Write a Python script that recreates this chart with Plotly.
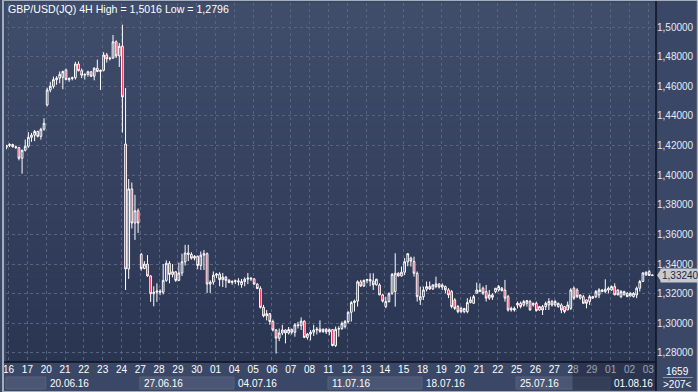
import plotly.graph_objects as go

# ---------------- data ----------------
days = ["16", "17", "20", "21", "22", "23", "24", "27", "28", "29", "30", "01",
        "04", "05", "06", "07", "08", "11", "12", "13", "14", "15", "18", "19",
        "20", "21", "22", "25", "26", "27", "28", "29", "01", "02", "03"]
week_labels = ["20.06.16", "27.06.16", "04.07.16", "11.07.16", "18.07.16", "25.07.16", "01.08.16"]
week_first_day = [2, 7, 12, 17, 22, 27, 32]
price_ticks = [1.28, 1.30, 1.32, 1.34, 1.36, 1.38, 1.40, 1.42, 1.44, 1.46, 1.48, 1.50]
bars_per_day = 6
lead_bars = 1

opens = [1.4188,
    1.4200, 1.4207, 1.4192, 1.4186, 1.4114, 1.4168,
    1.4195, 1.4255, 1.4270, 1.4295, 1.4262, 1.4310,
    1.4474, 1.4575, 1.4600, 1.4645, 1.4655, 1.4660,
    1.4710, 1.4645, 1.4652, 1.4658, 1.4750, 1.4705,
    1.4675, 1.4680, 1.4698, 1.4668, 1.4722, 1.4700,
    1.4708, 1.4811, 1.4785, 1.4790, 1.4900, 1.4805,
    1.4870, 1.4210, 1.3367, 1.3907, 1.3677, 1.3760,
    1.3465, 1.3370, 1.3400, 1.3320, 1.3200, 1.3210,
    1.3218, 1.3210, 1.3290, 1.3405, 1.3330, 1.3348,
    1.3290, 1.3340, 1.3415, 1.3475, 1.3465, 1.3440,
    1.3452, 1.3390, 1.3460, 1.3470, 1.3265, 1.3278,
    1.3325, 1.3332, 1.3295, 1.3312, 1.3290, 1.3276,
    1.3283, 1.3287, 1.3262, 1.3282, 1.3298, 1.3305,
    1.3300, 1.3265, 1.3235, 1.3108, 1.3050, 1.3065,
    1.3012, 1.2955, 1.2900, 1.2935, 1.2955, 1.2935,
    1.2958, 1.2940, 1.2990, 1.2985, 1.3015, 1.2905,
    1.2928, 1.2940, 1.2955, 1.2962, 1.2945, 1.2960,
    1.2942, 1.2958, 1.2850, 1.2960, 1.2965, 1.2978,
    1.3012, 1.3075, 1.3140, 1.3150, 1.3280, 1.3252,
    1.3290, 1.3296, 1.3285, 1.3260, 1.3259, 1.3192,
    1.3113, 1.3147, 1.3203, 1.3215, 1.3338, 1.3320,
    1.3345, 1.3415, 1.3440, 1.3417, 1.3338, 1.3158,
    1.3180, 1.3230, 1.3248, 1.3232, 1.3248, 1.3266,
    1.3245, 1.3248, 1.3226, 1.3214, 1.3158, 1.3113,
    1.3101, 1.3079, 1.3079, 1.3140, 1.3135, 1.3203,
    1.3214, 1.3237, 1.3214, 1.3170, 1.3192, 1.3214,
    1.3225, 1.3237, 1.3225, 1.3180, 1.3090, 1.3101,
    1.3124, 1.3135, 1.3124, 1.3135, 1.3147, 1.3124,
    1.3135, 1.3090, 1.3113, 1.3113, 1.3124, 1.3147,
    1.3124, 1.3113, 1.3124, 1.3113, 1.3090, 1.3101,
    1.3237, 1.3225, 1.3170, 1.3180, 1.3158, 1.3147,
    1.3170, 1.3180, 1.3192, 1.3214, 1.3214, 1.3225,
    1.3225, 1.3248, 1.3225, 1.3180, 1.3192, 1.3203,
    1.3185, 1.3180, 1.3192, 1.3237, 1.3282, 1.3327,
    1.3350, 1.3326]

highs = [1.4205,
    1.4215, 1.4212, 1.4200, 1.4190, 1.4172, 1.4240,
    1.4290, 1.4285, 1.4305, 1.4300, 1.4320, 1.4384,
    1.4590, 1.4630, 1.4665, 1.4668, 1.4700, 1.4705,
    1.4720, 1.4660, 1.4665, 1.4765, 1.4768, 1.4720,
    1.4688, 1.4705, 1.4702, 1.4728, 1.4780, 1.4712,
    1.4830, 1.4825, 1.4795, 1.4946, 1.4910, 1.4892,
    1.5016, 1.4588, 1.3974, 1.3950, 1.3867, 1.3775,
    1.3475, 1.3420, 1.3460, 1.3325, 1.3250, 1.3270,
    1.3230, 1.3400, 1.3425, 1.3420, 1.3400, 1.3352,
    1.3410, 1.3470, 1.3530, 1.3530, 1.3480, 1.3460,
    1.3458, 1.3485, 1.3495, 1.3478, 1.3290, 1.3350,
    1.3340, 1.3345, 1.3340, 1.3320, 1.3300, 1.3290,
    1.3295, 1.3305, 1.3300, 1.3310, 1.3340, 1.3312,
    1.3305, 1.3270, 1.3250, 1.3125, 1.3090, 1.3068,
    1.3025, 1.2962, 1.2965, 1.2990, 1.2960, 1.2975,
    1.2965, 1.3000, 1.3010, 1.3040, 1.3020, 1.2935,
    1.2955, 1.2990, 1.2975, 1.3020, 1.2965, 1.2968,
    1.2965, 1.2962, 1.2978, 1.2980, 1.3012, 1.3022,
    1.3080, 1.3150, 1.3160, 1.3290, 1.3293, 1.3295,
    1.3300, 1.3338, 1.3338, 1.3300, 1.3270, 1.3200,
    1.3180, 1.3210, 1.3340, 1.3473, 1.3345, 1.3383,
    1.3440, 1.3473, 1.3450, 1.3450, 1.3350, 1.3248,
    1.3248, 1.3282, 1.3282, 1.3263, 1.3315, 1.3270,
    1.3270, 1.3255, 1.3237, 1.3225, 1.3170, 1.3124,
    1.3113, 1.3101, 1.3170, 1.3180, 1.3192, 1.3275,
    1.3270, 1.3248, 1.3259, 1.3225, 1.3203, 1.3237,
    1.3259, 1.3245, 1.3293, 1.3192, 1.3113, 1.3113,
    1.3147, 1.3147, 1.3158, 1.3158, 1.3158, 1.3140,
    1.3147, 1.3118, 1.3124, 1.3147, 1.3170, 1.3158,
    1.3158, 1.3140, 1.3135, 1.3113, 1.3147, 1.3237,
    1.3248, 1.3237, 1.3192, 1.3192, 1.3160, 1.3192,
    1.3185, 1.3225, 1.3237, 1.3230, 1.3297, 1.3248,
    1.3255, 1.3270, 1.3230, 1.3225, 1.3220, 1.3210,
    1.3210, 1.3210, 1.3248, 1.3293, 1.3345, 1.3350,
    1.3360, 1.3330]

lows = [1.4175,
    1.4190, 1.4185, 1.4178, 1.4100, 1.4010, 1.4160,
    1.4185, 1.4225, 1.4230, 1.4255, 1.4240, 1.4300,
    1.4465, 1.4560, 1.4585, 1.4610, 1.4620, 1.4580,
    1.4640, 1.4630, 1.4640, 1.4645, 1.4700, 1.4655,
    1.4645, 1.4665, 1.4662, 1.4640, 1.4695, 1.4575,
    1.4700, 1.4760, 1.4775, 1.4785, 1.4790, 1.4730,
    1.4287, 1.3225, 1.3300, 1.3640, 1.3563, 1.3610,
    1.3355, 1.3365, 1.3315, 1.3145, 1.3115, 1.3145,
    1.3190, 1.3195, 1.3280, 1.3270, 1.3310, 1.3280,
    1.3285, 1.3320, 1.3390, 1.3420, 1.3430, 1.3425,
    1.3365, 1.3360, 1.3360, 1.3205, 1.3205, 1.3260,
    1.3305, 1.3250, 1.3245, 1.3240, 1.3270, 1.3260,
    1.3265, 1.3255, 1.3240, 1.3250, 1.3265, 1.3285,
    1.3260, 1.3230, 1.3100, 1.3040, 1.3020, 1.2990,
    1.2945, 1.2796, 1.2880, 1.2920, 1.2865, 1.2925,
    1.2925, 1.2910, 1.2965, 1.2955, 1.2900, 1.2890,
    1.2885, 1.2915, 1.2925, 1.2935, 1.2935, 1.2928,
    1.2920, 1.2845, 1.2840, 1.2910, 1.2955, 1.2965,
    1.3000, 1.3012, 1.3080, 1.3113, 1.3245, 1.3245,
    1.3270, 1.3250, 1.3225, 1.3255, 1.3190, 1.3140,
    1.3102, 1.3140, 1.3192, 1.3113, 1.3315, 1.3315,
    1.3325, 1.3385, 1.3383, 1.3315, 1.3147, 1.3124,
    1.3158, 1.3215, 1.3225, 1.3225, 1.3237, 1.3235,
    1.3225, 1.3203, 1.3170, 1.3101, 1.3090, 1.3068,
    1.3068, 1.3068, 1.3068, 1.3135, 1.3135, 1.3203,
    1.3214, 1.3192, 1.3147, 1.3158, 1.3158, 1.3203,
    1.3214, 1.3215, 1.3147, 1.3079, 1.3079, 1.3079,
    1.3101, 1.3101, 1.3113, 1.3113, 1.3086, 1.3113,
    1.3079, 1.3085, 1.3056, 1.3090, 1.3090, 1.3113,
    1.3113, 1.3105, 1.3068, 1.3068, 1.3090, 1.3090,
    1.3158, 1.3170, 1.3160, 1.3135, 1.3101, 1.3124,
    1.3165, 1.3170, 1.3170, 1.3210, 1.3203, 1.3203,
    1.3220, 1.3192, 1.3190, 1.3170, 1.3190, 1.3180,
    1.3180, 1.3175, 1.3170, 1.3215, 1.3280, 1.3320,
    1.3320, 1.3320]

closes = [1.4200,
    1.4207, 1.4192, 1.4186, 1.4114, 1.4168, 1.4195,
    1.4255, 1.4270, 1.4295, 1.4262, 1.4310, 1.4350,
    1.4575, 1.4600, 1.4645, 1.4655, 1.4680, 1.4700,
    1.4645, 1.4652, 1.4658, 1.4750, 1.4705, 1.4675,
    1.4680, 1.4698, 1.4668, 1.4722, 1.4700, 1.4708,
    1.4811, 1.4785, 1.4790, 1.4900, 1.4805, 1.4870,
    1.4528, 1.3367, 1.3907, 1.3677, 1.3760, 1.3677,
    1.3370, 1.3400, 1.3320, 1.3200, 1.3210, 1.3218,
    1.3210, 1.3290, 1.3405, 1.3330, 1.3348, 1.3290,
    1.3340, 1.3415, 1.3475, 1.3465, 1.3440, 1.3452,
    1.3390, 1.3460, 1.3470, 1.3265, 1.3278, 1.3325,
    1.3332, 1.3295, 1.3312, 1.3290, 1.3276, 1.3283,
    1.3287, 1.3280, 1.3282, 1.3298, 1.3305, 1.3300,
    1.3265, 1.3235, 1.3108, 1.3050, 1.3065, 1.3012,
    1.2955, 1.2900, 1.2935, 1.2955, 1.2935, 1.2958,
    1.2940, 1.2990, 1.2985, 1.3015, 1.2905, 1.2928,
    1.2940, 1.2955, 1.2960, 1.2945, 1.2960, 1.2942,
    1.2958, 1.2850, 1.2960, 1.2965, 1.3000, 1.3012,
    1.3075, 1.3140, 1.3150, 1.3280, 1.3252, 1.3290,
    1.3296, 1.3285, 1.3260, 1.3298, 1.3192, 1.3150,
    1.3147, 1.3200, 1.3330, 1.3338, 1.3320, 1.3345,
    1.3415, 1.3470, 1.3420, 1.3338, 1.3180, 1.3180,
    1.3225, 1.3248, 1.3232, 1.3259, 1.3266, 1.3245,
    1.3259, 1.3226, 1.3192, 1.3113, 1.3101, 1.3079,
    1.3079, 1.3101, 1.3140, 1.3158, 1.3180, 1.3225,
    1.3225, 1.3203, 1.3170, 1.3192, 1.3176, 1.3237,
    1.3248, 1.3221, 1.3170, 1.3090, 1.3101, 1.3090,
    1.3135, 1.3113, 1.3147, 1.3153, 1.3090, 1.3135,
    1.3086, 1.3113, 1.3090, 1.3135, 1.3147, 1.3124,
    1.3147, 1.3135, 1.3090, 1.3079, 1.3124, 1.3225,
    1.3170, 1.3180, 1.3192, 1.3135, 1.3135, 1.3180,
    1.3180, 1.3214, 1.3225, 1.3225, 1.3230, 1.3237,
    1.3248, 1.3192, 1.3192, 1.3214, 1.3214, 1.3180,
    1.3203, 1.3203, 1.3237, 1.3282, 1.3340, 1.3345,
    1.3323, 1.3324]

symbol = "GBP/USD(JQ) 4H"
clock_text = "1659"

# ---------------- geometry ----------------
W, H = 698, 392
ML, MR, MT, MB = 3, 42, 3, 30
PW, PH = W - ML - MR, H - MT - MB
X_RANGE = [-0.13, 207.17]
Y_RANGE = [1.2739, 1.5162]
FONT = "Liberation Sans, Arial, sans-serif"
FS = 10


def px_x(px):
    return (px - ML) / PW


def px_y(py):
    return (H - MB - py) / PH


def idx_to_paper(v):
    return (v - X_RANGE[0]) / (X_RANGE[1] - X_RANGE[0])


def fmt(v, n):
    return f"{v:.{n}f}".replace(".", ",")


n = len(opens)
idx = list(range(n))
day_first = [lead_bars + bars_per_day * d for d in range(len(days))]
tick_pos = [p - 0.3 for p in day_first]

fig = go.Figure()
fig.add_trace(go.Candlestick(
    x=idx, open=opens, high=highs, low=lows, close=closes,
    increasing=dict(line=dict(color="#ffffff", width=1), fillcolor="rgba(0,0,0,0)"),
    decreasing=dict(line=dict(color="#ffffff", width=1), fillcolor="#f0002e"),
    whiskerwidth=0, showlegend=False, hoverinfo="skip"))

shapes = []
# gradient plot background
top_c = (64, 77, 107)
bot_c = (42, 53, 82)
NB = 60
for k in range(NB):
    t = (k + 0.5) / NB
    c = tuple(int(round(bot_c[i] + (top_c[i] - bot_c[i]) * t)) for i in range(3))
    shapes.append(dict(type="rect", xref="paper", yref="paper", x0=0, x1=1,
                       y0=k / NB, y1=min(1, (k + 1) / NB + 0.004),
                       fillcolor=f"rgb{c}", line=dict(width=0), layer="below"))

# week boxes in the date row (alternate shading)
bounds = [0] + week_first_day + [len(days)]
for w in range(len(bounds) - 1):
    if w % 2 == 0:
        a = idx_to_paper(lead_bars + bars_per_day * bounds[w] - 0.45) if w > 0 else 0
        b = min(1, idx_to_paper(lead_bars + bars_per_day * bounds[w + 1] - 0.45))
        shapes.append(dict(type="rect", xref="paper", yref="paper", x0=a, x1=b,
                           y0=px_y(389), y1=px_y(377), fillcolor="#4a5673",
                           line=dict(color="#56627e", width=1), layer="below"))

# dimmed (inactive) region in the time axis
shapes.append(dict(type="rect", xref="paper", yref="paper",
                   x0=idx_to_paper(lead_bars + bars_per_day * 30 - 0.45), x1=1,
                   y0=px_y(390), y1=0, fillcolor="rgba(22,29,48,0.42)",
                   line=dict(width=0), layer="above"))

# frame lines
shapes.append(dict(type="line", xref="paper", yref="paper", x0=px_x(0), x1=1,
                   y0=0, y1=0, line=dict(color="#0e1322", width=1.5), layer="above"))
shapes.append(dict(type="line", xref="paper", yref="paper", x0=1, x1=1,
                   y0=px_y(H), y1=px_y(0), line=dict(color="#0e1322", width=1.5), layer="above"))
shapes.append(dict(type="line", xref="paper", yref="paper", x0=px_x(663), x1=px_x(693),
                   y0=px_y(377.5), y1=px_y(377.5), line=dict(color="#8d97ab", width=1), layer="above"))
# outer border
shapes.append(dict(type="rect", xref="paper", yref="paper", x0=px_x(0), x1=px_x(W),
                   y0=px_y(H), y1=px_y(0), line=dict(color="#a6aebb", width=2),
                   fillcolor="rgba(0,0,0,0)", layer="above"))
# last-price pointer
shapes.append(dict(type="path", xref="paper", xsizemode="pixel", xanchor=1,
                   yref="y", ysizemode="pixel", yanchor=closes[-1],
                   path="M 1 0 L 5 6 L 5 -6 Z", fillcolor="#c6cad2",
                   line=dict(width=0), layer="above"))

annotations = [
    dict(text=f"{symbol} High = {fmt(max(highs), 4)} Low = {fmt(min(lows), 4)}",
         xref="paper", yref="paper", x=px_x(4), y=px_y(9), xanchor="left", yanchor="middle",
         showarrow=False, borderpad=0, font=dict(family=FONT, size=10.6, color="#ffffff")),
    dict(text=fmt(closes[-1], 5), xref="paper", yref="y", x=1, y=closes[-1],
         xanchor="left", yanchor="middle", xshift=4, showarrow=False, borderpad=1,
         bgcolor="#c6cad2", font=dict(family=FONT, size=FS, color="#1d2740")),
    dict(text=clock_text, xref="paper", yref="paper", x=px_x(678), y=px_y(371),
         xanchor="center", yanchor="middle", showarrow=False, borderpad=0,
         font=dict(family=FONT, size=FS, color="#ffffff")),
    dict(text=f"&gt;{n}&lt;", xref="paper", yref="paper", x=px_x(678), y=px_y(384),
         xanchor="center", yanchor="middle", showarrow=False, borderpad=0,
         font=dict(family=FONT, size=FS, color="#ffffff")),
]
for lab, d in zip(week_labels, week_first_day):
    annotations.append(dict(text=lab, xref="x", yref="paper", x=lead_bars + bars_per_day * d,
                            y=px_y(383.5), xanchor="left", yanchor="middle", xshift=1.5,
                            showarrow=False, borderpad=0,
                            font=dict(family=FONT, size=FS, color="#ffffff")))

fig.update_layout(
    width=W, height=H, margin=dict(l=ML, r=MR, t=MT, b=MB, pad=0),
    paper_bgcolor="#3b4767", plot_bgcolor="rgba(0,0,0,0)",
    separators=",.", boxgap=0.22, hovermode=False, showlegend=False,
    shapes=shapes, annotations=annotations,
    xaxis=dict(range=X_RANGE, tickmode="array", tickvals=tick_pos, ticktext=days,
               tickangle=0, showgrid=True, gridcolor="#58647f", griddash="3px,3px",
               gridwidth=1, zeroline=False, showline=False, ticks="",
               tickfont=dict(family=FONT, size=FS, color="#ffffff"),
               rangeslider=dict(visible=False), fixedrange=True),
    yaxis=dict(range=Y_RANGE, side="right", tickmode="array", tickvals=price_ticks,
               tickformat=".5f", showgrid=True, gridcolor="#58647f", griddash="3px,3px",
               gridwidth=1, zeroline=False, showline=False, ticks="",
               tickfont=dict(family=FONT, size=FS, color="#e4eaf4"), fixedrange=True),
)

fig.write_html("out.html")
